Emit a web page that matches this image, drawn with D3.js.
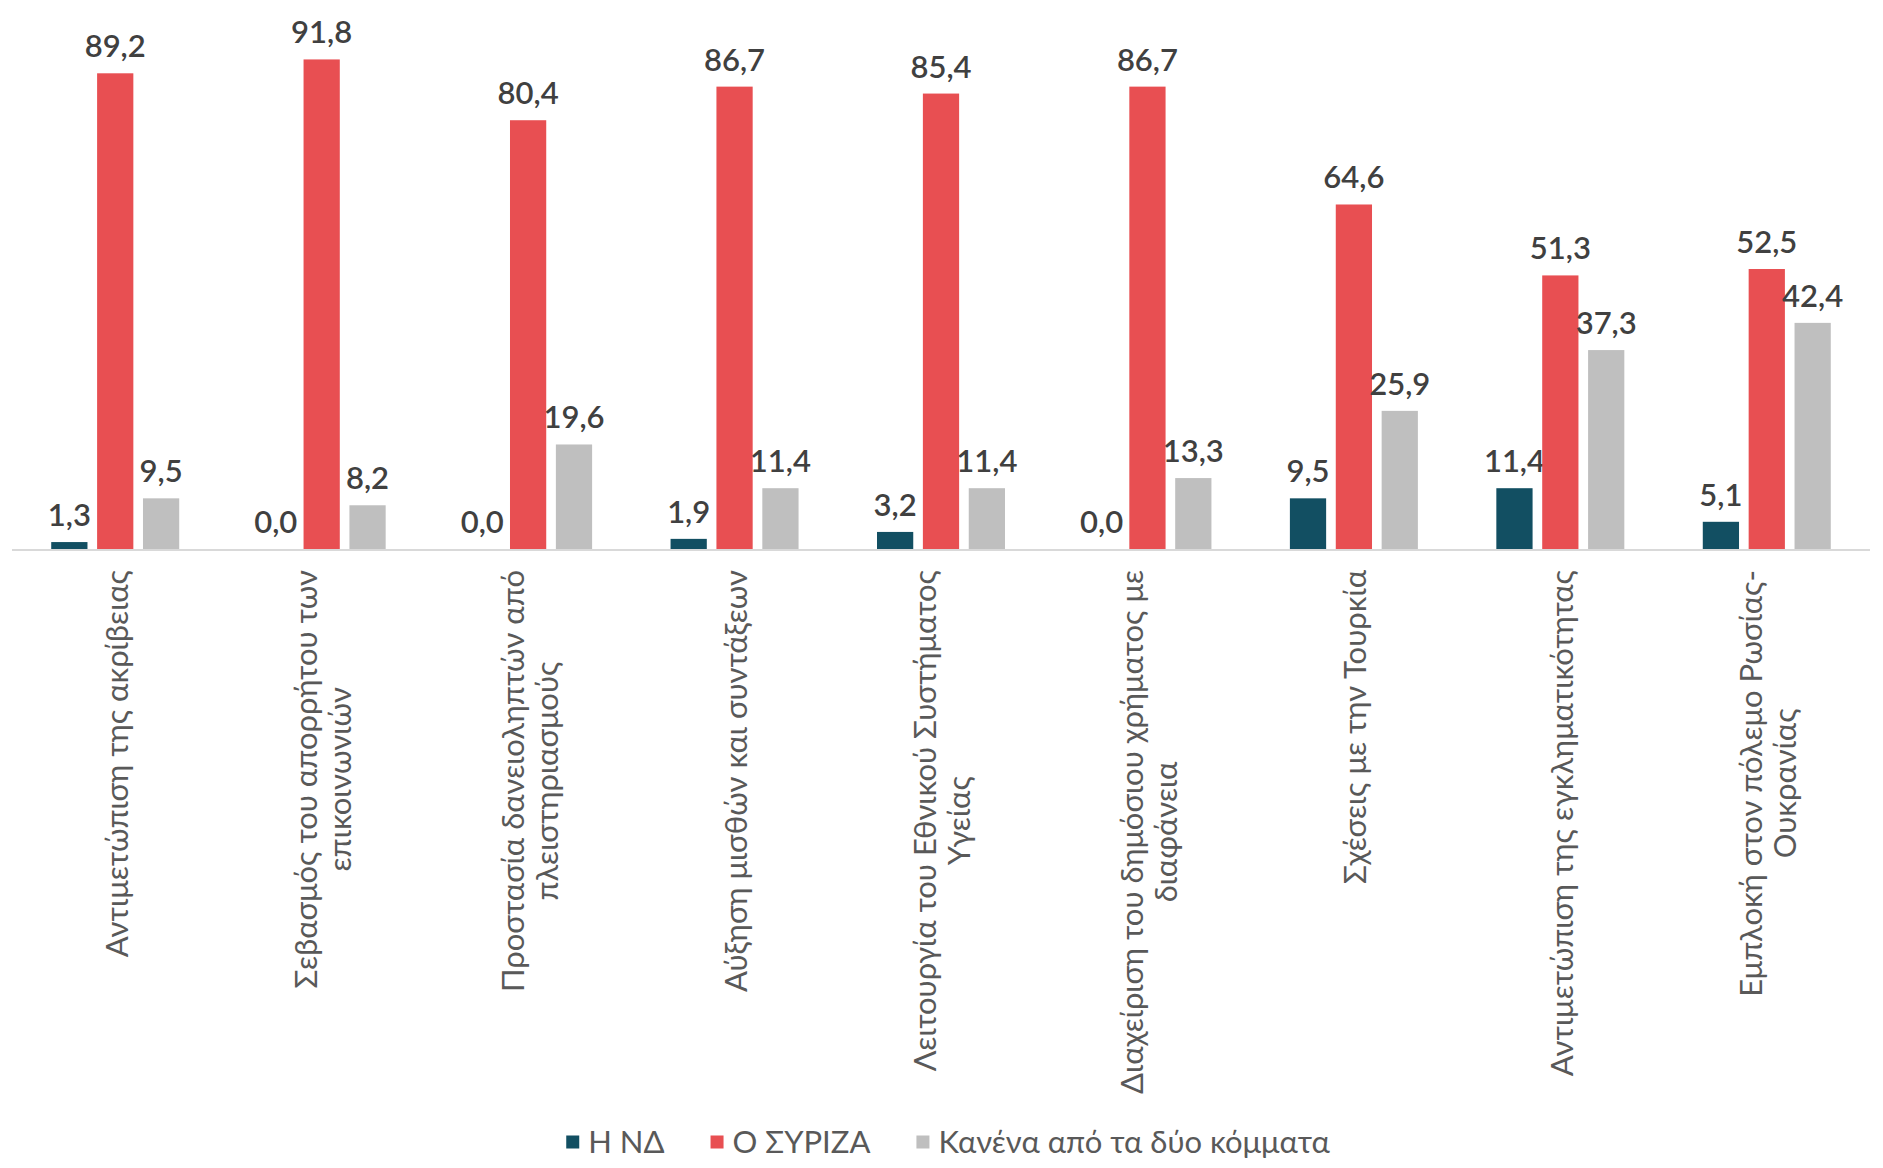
<!DOCTYPE html>
<html><head><meta charset="utf-8">
<script src="https://cdn.jsdelivr.net/npm/d3@7"></script>
<style>
html,body{margin:0;padding:0;background:#fff;}
svg{display:block;font-family:Lato,"Noto Sans",sans-serif;}
</style></head>
<body>
<svg id="chart" width="1883" height="1168"></svg>
<script>
const categories = [
  ["Αντιμετώπιση της ακρίβειας"],
  ["Σεβασμός του απορρήτου των", "επικοινωνιών"],
  ["Προστασία δανειοληπτών από", "πλειστηριασμούς"],
  ["Αύξηση μισθών και συντάξεων"],
  ["Λειτουργία του Εθνικού Συστήματος", "Υγείας"],
  ["Διαχείριση του δημόσιου χρήματος με", "διαφάνεια"],
  ["Σχέσεις με την Τουρκία"],
  ["Αντιμετώπιση της εγκληματικότητας"],
  ["Εμπλοκή στον πόλεμο Ρωσίας-", "Ουκρανίας"]
];
const seriesNames = ["Η ΝΔ", "Ο ΣΥΡΙΖΑ", "Κανένα από τα δύο κόμματα"];
const valuesND = [1.3, 0.0, 0.0, 1.9, 3.2, 0.0, 9.5, 11.4, 5.1];
const valuesSYRIZA = [89.2, 91.8, 80.4, 86.7, 85.4, 86.7, 64.6, 51.3, 52.5];
const valuesNone = [9.5, 8.2, 19.6, 11.4, 11.4, 13.3, 25.9, 37.3, 42.4];
const colors = ["#124F62", "#E84F52", "#BFBFBF"];

const series = [valuesND, valuesSYRIZA, valuesNone];
const svg = d3.select("#chart");
const baseY = 549;
const x0 = d3.scaleBand().domain(d3.range(categories.length)).range([12, 1870]).paddingInner(0.38).paddingOuter(0.19);
const x1 = d3.scaleBand().domain(d3.range(3)).range([0, x0.bandwidth()]).paddingInner(0.21);
const y = d3.scaleLinear().domain([0, 100]).range([baseY, baseY - 533.3]);
const fmt = v => d3.format(".1f")(v).replace(".", ",");

const g = svg.append("g");
categories.forEach((c, i) => {
  const gg = g.append("g").attr("transform", `translate(${x0(i)},0)`);
  series.forEach((s, k) => {
    gg.append("rect")
      .attr("x", x1(k)).attr("width", x1.bandwidth())
      .attr("y", y(s[i])).attr("height", y(0) - y(s[i]))
      .attr("fill", colors[k]);
    gg.append("text")
      .attr("x", x1(k) + x1.bandwidth() / 2)
      .attr("y", y(s[i]) - 16)
      .attr("text-anchor", "middle")
      .attr("font-size", 31).attr("font-weight", 600)
      .attr("fill", "#404040")
      .text(fmt(s[i]));
  });
});

// axis line
svg.append("line").attr("x1", 12).attr("x2", 1870).attr("y1", baseY + 1).attr("y2", baseY + 1)
  .attr("stroke", "#D9D9D9").attr("stroke-width", 2);

// category labels
const labTop = 570, lineGap = 34;
categories.forEach((lines, i) => {
  const cx = x0(i) + x0.bandwidth() / 2;
  const t = svg.append("g");
  const texts = lines.map((ln, j) => t.append("text")
    .attr("font-size", 31).attr("fill", "#595959")
    .attr("text-anchor", "middle")
    .attr("dy", "0.4em")
    .text(ln));
  const maxLen = d3.max(texts, tx => tx.node().getComputedTextLength());
  const cy = labTop + maxLen / 2;
  texts.forEach((tx, j) => {
    const off = (j - (lines.length - 1) / 2) * lineGap;
    tx.attr("transform", `translate(${cx + off},${cy}) rotate(-90)`);
  });
});

// legend
const legY = 1142;
const lg = svg.append("g");
let cur = 0;
const items = seriesNames.map((n, k) => {
  const it = lg.append("g").attr("transform", `translate(${cur},0)`);
  it.append("rect").attr("x", 0).attr("y", -6.5).attr("width", 13).attr("height", 13).attr("fill", colors[k]);
  const tx = it.append("text").attr("x", 22).attr("dy", "0.35em").attr("font-size", 31).attr("fill", "#595959").text(n);
  const w = 22 + tx.node().getComputedTextLength();
  cur += w + 46;
  return it;
});
const total = cur - 46;
lg.attr("transform", `translate(${948 - total / 2},${legY})`);
</script>
</body></html>
